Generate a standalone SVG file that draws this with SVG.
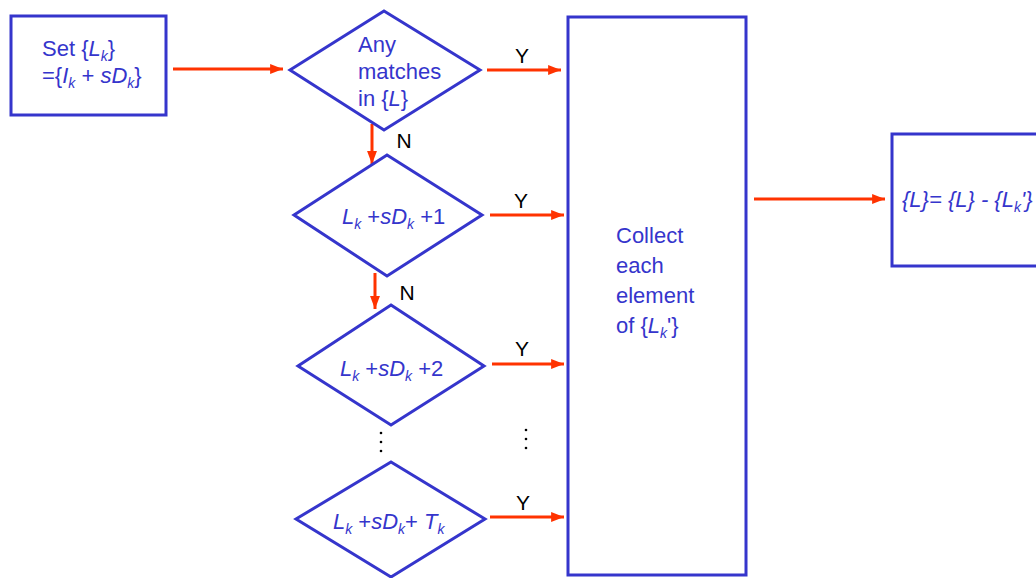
<svg xmlns="http://www.w3.org/2000/svg" width="1036" height="578" viewBox="0 0 1036 578">
<style>
.box{fill:none;stroke:#3535cc;stroke-width:3}
.t{font-family:"Liberation Sans",Arial,sans-serif;font-size:22px;fill:#3535cc}
.i{font-style:italic}
.s{font-size:14px}
.lbl{font-family:"Liberation Sans",Arial,sans-serif;font-size:21px;fill:#000;text-anchor:middle}
.ar{stroke:#ff3300;stroke-width:3;fill:none;marker-end:url(#ah)}
.dot{fill:#000}
</style>
<defs>
<marker id="ah" viewBox="0 0 13 10" refX="13" refY="5" markerWidth="4.3" markerHeight="3.4" orient="auto" markerUnits="strokeWidth">
<path d="M0,0 L13,5 L0,10 z" fill="#ff3300"/>
</marker>
</defs>
<rect width="1036" height="578" fill="#fff"/>
<g id="connectors">
<line class="ar" x1="173" y1="69" x2="283" y2="69"/>
<line class="ar" x1="487" y1="70" x2="561" y2="70"/>
<line class="ar" x1="490" y1="215" x2="564" y2="215"/>
<line class="ar" x1="492" y1="364" x2="564" y2="364"/>
<line class="ar" x1="490" y1="517" x2="564" y2="517"/>
<line class="ar" x1="372" y1="124" x2="372" y2="164"/>
<line class="ar" x1="375" y1="273" x2="375" y2="309"/>
<line class="ar" x1="754" y1="199" x2="885" y2="199"/>
<text class="lbl" x="522" y="63">Y</text>
<text class="lbl" x="521" y="208">Y</text>
<text class="lbl" x="522" y="356">Y</text>
<text class="lbl" x="523" y="510">Y</text>
<text class="lbl" x="404" y="148">N</text>
<text class="lbl" x="407" y="300">N</text>
<circle class="dot" cx="381" cy="433" r="1.3"/>
<circle class="dot" cx="381" cy="442" r="1.3"/>
<circle class="dot" cx="381" cy="451" r="1.3"/>
<circle class="dot" cx="526" cy="430" r="1.3"/>
<circle class="dot" cx="526" cy="439" r="1.3"/>
<circle class="dot" cx="526" cy="448" r="1.3"/>
</g>
<g id="set">
<rect class="box" x="11" y="16" width="155" height="99"/>
<text class="t" x="42" y="56">Set {<tspan class="i">L</tspan><tspan class="s i" dy="5">k</tspan><tspan dy="-5">}</tspan></text>
<text class="t" x="42" y="83">={<tspan class="i">I</tspan><tspan class="s i" dy="5">k</tspan><tspan dy="-5"> + </tspan><tspan class="i">sD</tspan><tspan class="s i" dy="5">k</tspan><tspan dy="-5">}</tspan></text>
</g>
<g id="d1">
<polygon class="box" points="384,11 480,70 384,130 290,70"/>
<text class="t" x="358" y="52">Any</text>
<text class="t" x="358" y="79">matches</text>
<text class="t" x="358" y="106">in {<tspan class="i">L</tspan>}</text>
</g>
<g id="d2">
<polygon class="box" points="387,155 482,215 387,276 294,215"/>
<text class="t" x="342" y="224"><tspan class="i">L</tspan><tspan class="s i" dy="5">k</tspan><tspan dy="-5"> +</tspan><tspan class="i">sD</tspan><tspan class="s i" dy="5">k</tspan><tspan dy="-5"> +1</tspan></text>
</g>
<g id="d3">
<polygon class="box" points="391,305 484,366 391,425 298,366"/>
<text class="t" x="340" y="376"><tspan class="i">L</tspan><tspan class="s i" dy="5">k</tspan><tspan dy="-5"> +</tspan><tspan class="i">sD</tspan><tspan class="s i" dy="5">k</tspan><tspan dy="-5"> +2</tspan></text>
</g>
<g id="d4">
<polygon class="box" points="391,462 485,519 391,577 296,519"/>
<text class="t" x="333" y="529"><tspan class="i">L</tspan><tspan class="s i" dy="5">k</tspan><tspan dy="-5"> +</tspan><tspan class="i">sD</tspan><tspan class="s i" dy="5">k</tspan><tspan dy="-5">+ </tspan><tspan class="i">T</tspan><tspan class="s i" dy="5">k</tspan></text>
</g>
<g id="collect">
<rect class="box" x="568" y="17" width="178" height="558"/>
<text class="t" x="616" y="243">Collect</text>
<text class="t" x="616" y="273">each</text>
<text class="t" x="616" y="303">element</text>
<text class="t" x="616" y="333">of {<tspan class="i">L</tspan><tspan class="s i" dy="5">k</tspan><tspan dy="-5">'}</tspan></text>
</g>
<g id="result">
<rect class="box" x="892" y="134" width="160" height="132"/>
<text class="t i" x="902" y="207">{L}= {L} - {L<tspan class="s" dy="5">k</tspan><tspan dy="-5">'}</tspan></text>
</g>
</svg>
